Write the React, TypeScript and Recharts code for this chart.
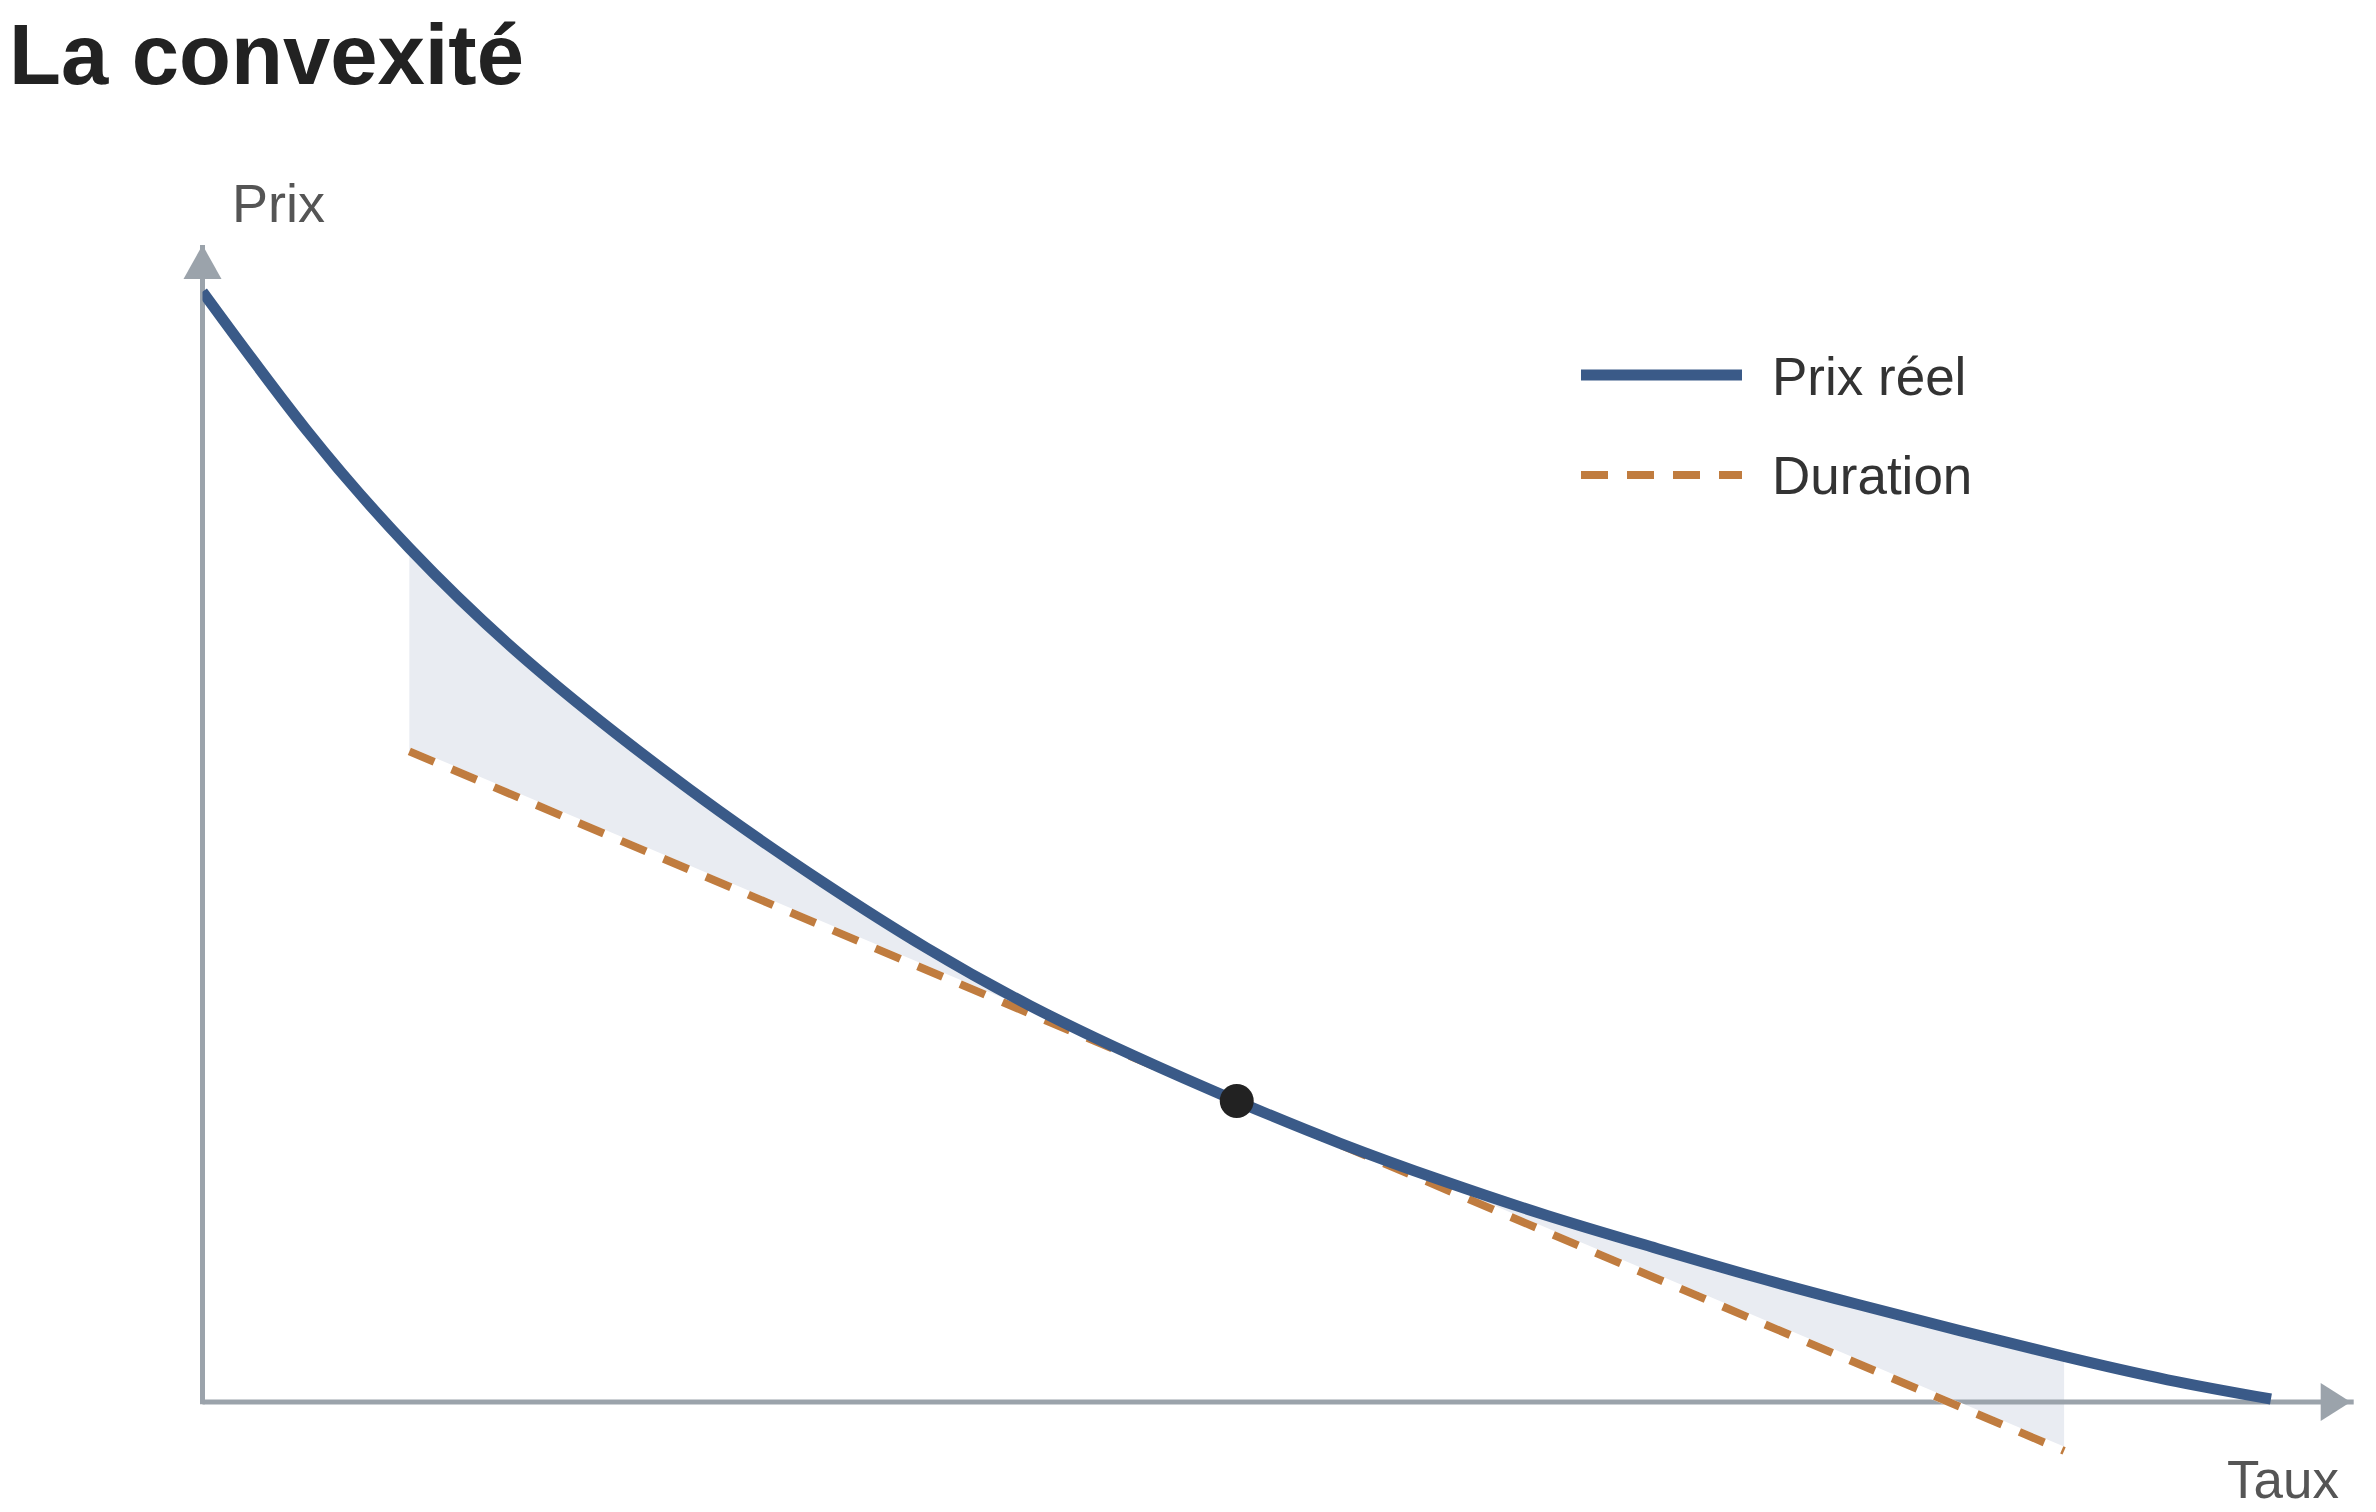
import React from "react";
import {
  ComposedChart,
  Line,
  Area,
  XAxis,
  YAxis,
  ReferenceLine,
  ReferenceDot,
} from "recharts";

// ---- Data ----
const TAUX = [0, 0.5, 1, 1.5, 2, 2.5, 3, 3.5, 4, 4.5, 5, 5.5, 6, 6.5, 7, 7.5, 8, 8.5, 9, 9.5, 10];
const PRIX_REEL = [100, 87.6, 76.9, 67.9, 60.2, 53.2, 46.8, 40.9, 35.7, 31.2, 27.1, 23.3, 19.9, 16.8, 14.0, 11.3, 8.8, 6.4, 4.1, 2.0, 0.27];

const TAUX_ZONE = [1, 1.5, 2, 2.5, 3, 3.5, 4, 4.5, 5, 5.5, 6, 6.5, 7, 7.5, 8, 8.5, 9];
const DURATION = [58.6, 54.7, 50.7, 46.8, 42.9, 38.9, 35.0, 31.0, 27.1, 23.2, 19.2, 15.3, 11.4, 7.4, 3.5, -0.5, -4.4];

const POINT_TAUX = 5;
const POINT_PRIX = 27.1;

const X_DOMAIN: [number, number] = [0, 10.4];
const Y_DOMAIN: [number, number] = [-6, 104.2];

const TITLE = "La convexité";
const Y_LABEL = "Prix";
const X_LABEL = "Taux";
const LEGEND_PRIX = "Prix réel";
const LEGEND_DURATION = "Duration";

// ---- Styles ----
const BLUE = "#3a5a88";
const ORANGE = "#c07c3f";
const FILL = "#e9ecf2";
const AXIS = "#9ba3ab";
const FONT = "'Liberation Sans', Arial, Helvetica, sans-serif";

const prixData = TAUX.map((x, i) => ({ x, y: PRIX_REEL[i] }));
const zoneData = TAUX_ZONE.map((x, i) => ({
  x,
  range: [DURATION[i], PRIX_REEL[TAUX.indexOf(x)]],
}));
const durationData = [
  { x: TAUX_ZONE[0], y: DURATION[0] },
  { x: TAUX_ZONE[TAUX_ZONE.length - 1], y: DURATION[DURATION.length - 1] },
];

const W = 2360;
const H = 1496;

const ArrowRight = (props: any) => {
  const { cx, cy } = props;
  if (cx == null || cy == null) return null;
  const tip = cx - 3;
  return <polygon points={`${tip},${cy} ${tip - 30},${cy - 19} ${tip - 30},${cy + 19}`} fill={AXIS} />;
};

const ArrowUp = (props: any) => {
  const { cx, cy } = props;
  if (cx == null || cy == null) return null;
  return <polygon points={`${cx},${cy} ${cx - 19},${cy + 34} ${cx + 19},${cy + 34}`} fill={AXIS} />;
};

export default function App() {
  return (
    <div style={{ position: "relative", width: W, height: H, background: "#fff" }}>
      <ComposedChart
        width={W}
        height={H}
        margin={{ top: 237, right: 14.3, bottom: 35.4, left: 194.5 }}
      >
        <XAxis type="number" dataKey="x" domain={X_DOMAIN} allowDataOverflow hide />
        <YAxis type="number" domain={Y_DOMAIN} allowDataOverflow hide />
        <ReferenceLine
          segment={[{ x: 0, y: 0 }, { x: X_DOMAIN[1], y: 0 }]}
          stroke={AXIS}
          strokeWidth={5}
        />
        <ReferenceLine
          segment={[{ x: 0, y: -0.2 }, { x: 0, y: Y_DOMAIN[1] }]}
          stroke={AXIS}
          strokeWidth={5}
        />
        <ReferenceDot x={X_DOMAIN[1]} y={0} r={1} shape={ArrowRight} />
        <ReferenceDot x={0} y={Y_DOMAIN[1]} r={1} shape={ArrowUp} />
        <Area
          data={zoneData}
          dataKey="range"
          type="natural"
          fill={FILL}
          fillOpacity={1}
          stroke="none"
          isAnimationActive={false}
          activeDot={false}
        />
        <Line
          data={durationData}
          dataKey="y"
          type="linear"
          stroke="#ffffff"
          strokeWidth={8}
          dot={false}
          activeDot={false}
          isAnimationActive={false}
        />
        <Line
          data={durationData}
          dataKey="y"
          type="linear"
          stroke={ORANGE}
          strokeWidth={8}
          strokeDasharray="27 19"
          dot={false}
          activeDot={false}
          isAnimationActive={false}
        />
        <Line
          data={prixData}
          dataKey="y"
          type="natural"
          stroke={BLUE}
          strokeWidth={11}
          dot={false}
          activeDot={false}
          isAnimationActive={false}
        />
        <ReferenceDot x={POINT_TAUX} y={POINT_PRIX} r={17} fill="#222222" stroke="none" />
      </ComposedChart>

      <svg
        width={W}
        height={H}
        style={{ position: "absolute", left: 0, top: 0, pointerEvents: "none", overflow: "visible" }}
      >
        <text x={1} y={76} fontFamily={FONT} fontWeight="bold" fontSize={85} fill="#222222">
          {TITLE}
        </text>
        <text x={224} y={214} fontFamily={FONT} fontSize={54} fill="#555555">
          {Y_LABEL}
        </text>
        <text x={2331} y={1490} fontFamily={FONT} fontSize={53} fill="#555555" textAnchor="end">
          {X_LABEL}
        </text>
        <line x1={1573} y1={367} x2={1734} y2={367} stroke={BLUE} strokeWidth={11} />
        <text x={1764} y={387} fontFamily={FONT} fontSize={53} fill="#333333">
          {LEGEND_PRIX}
        </text>
        <line
          x1={1573}
          y1={467}
          x2={1734}
          y2={467}
          stroke={ORANGE}
          strokeWidth={8}
          strokeDasharray="27 19"
        />
        <text x={1764} y={486} fontFamily={FONT} fontSize={53} fill="#333333">
          {LEGEND_DURATION}
        </text>
      </svg>
    </div>
  );
}
